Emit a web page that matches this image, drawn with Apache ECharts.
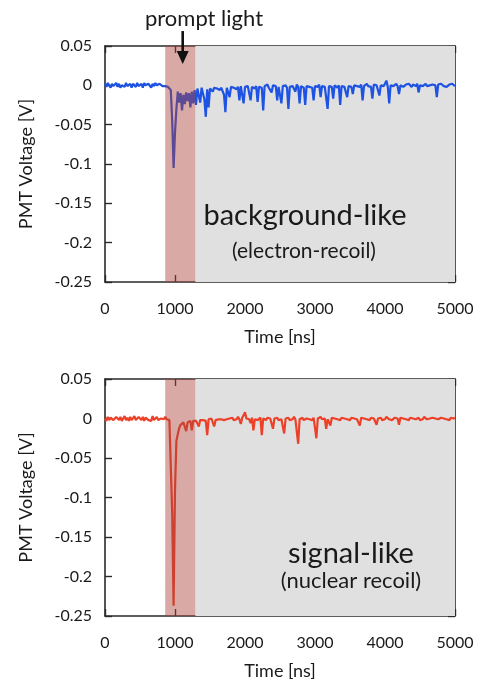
<!DOCTYPE html>
<html>
<head>
<meta charset="utf-8">
<script src="https://cdn.jsdelivr.net/npm/echarts@6/dist/echarts.min.js"></script>
<style>
  html, body { margin: 0; padding: 0; background: #ffffff; }
  #chart { width: 479px; height: 685px; }
</style>
</head>
<body>
<div id="chart"></div>
<script>
// ---- data ----
const sampleStartNs = 0;
const sampleStepNs = 20;

// Top trace: background-like (electron-recoil), PMT voltage in mV, one value every 20 ns
const backgroundMv = [
  2,-2,3,0,-3,2,-1,1,3,-2,
  2,-3,0,2,-2,3,-1,0,2,-3,
  2,0,-2,3,-1,-2,2,-3,3,0,
  -2,2,0,-3,2,-1,3,0,-2,2,
  3,-1,0,-1,1,-2,-3,-6,-45,-105,
  -60,-30,-8,-22,-10,-32,-12,-24,-9,-20,
  -10,-28,-8,-23,-6,-25,-4,-3,-22,-3,
  -5,-18,-40,-5,-28,-4,-2,-8,-3,-1,
  -4,-2,-6,-3,-2,-12,-34,-3,-1,-15,
  -2,0,-3,-1,-5,-2,-19,-1,-3,-23,
  -2,0,-1,-3,-19,-2,0,-4,-1,-21,
  -2,0,-3,-32,-1,-2,1,-3,-1,-9,
  0,-2,-1,-19,-2,0,-23,-1,-2,0,
  -3,-30,-2,0,-1,-3,-8,1,-2,-23,
  -1,0,-3,-25,-1,1,-2,0,-3,-19,
  -1,0,-2,1,-15,-1,0,-2,-4,-30,
  -1,1,-2,-17,0,-1,-3,0,-25,-1,
  1,-2,0,-15,-1,1,-2,-11,0,2,
  -1,0,-2,1,-19,-1,0,2,-1,0,
  -2,-17,1,-1,0,-2,-13,0,1,-1,
  2,6,-2,-23,0,1,-1,0,2,-1,
  -11,0,1,-2,0,1,-1,2,0,-2,
  1,0,-1,2,-9,0,1,-1,0,2,
  -1,1,0,-2,1,-1,0,-15,1,-1,
  2,0,-1,1,-2,0,1,-1,2,0,
  -1
];

// Bottom trace: signal-like (nuclear recoil), PMT voltage in mV, one value every 20 ns
const signalMv = [
  0,-3,2,-2,1,3,-2,-3,2,0,
  -2,2,-3,0,3,-2,1,-3,2,-2,
  0,3,-2,-3,2,0,-2,2,-3,1,
  2,-2,0,-3,3,-2,0,2,-2,-3,
  0,1,-1,2,-1,0,-2,-3,-120,-237,
  -90,-28,-20,-12,-8,-6,-5,-4,-16,-5,
  -4,-3,-15,-3,-2,-3,-2,-10,-2,-1,
  -2,-1,-3,-21,-1,-2,0,-1,-10,-2,
  0,-1,-2,-1,1,-2,0,-1,-3,0,
  -1,1,-2,0,-1,2,-1,-7,1,4,
  8,0,-2,-1,-6,1,-15,-1,0,-2,
  -1,1,-21,0,-1,-2,1,-1,0,-2,
  -13,0,-1,1,-2,0,-1,-2,-19,0,
  -1,1,-2,0,-1,2,-1,0,-32,-1,
  0,1,-2,-1,0,2,-1,0,-2,1,
  -1,-25,0,-1,2,-1,-2,0,-13,-1,
  0,-9,1,-1,0,2,-1,0,-2,1,
  -1,0,2,-1,0,-2,1,-1,0,2,
  -1,0,-9,1,-1,0,2,-1,0,-2,
  1,-1,0,2,-8,0,-1,1,-2,0,
  -1,2,0,-1,1,-2,0,1,-1,0,
  -8,1,-1,0,2,-1,0,-2,1,-1,
  0,2,-1,0,1,-2,0,-1,2,0,
  -1,1,0,-2,1,-1,0,2,-1,0,
  1,-1,0,2,-1,0,-2,1,-1,0,
  1
];

const promptWindowNs = [860, 1290];   // red "prompt light" window
const lateWindowNs = [1290, 5000];    // grey late window

const xTicksNs = [0, 1000, 2000, 3000, 4000, 5000];
const yTicksV = [0.05, 0, -0.05, -0.1, -0.15, -0.2, -0.25];

// ---- build ----
const toPoints = arr => arr.map((mv, i) => [sampleStartNs + i * sampleStepNs, mv / 1000]);

const FONT = 'Lato';
const TXT = '#1a1a1a';
const AXC = '#2a2a2a';

function xAxes(gridIndex) {
  const base = {
    gridIndex, type: 'value',
    min: xTicksNs[0], max: xTicksNs[xTicksNs.length - 1], interval: 1000,
    splitLine: { show: false },
    axisLine: { show: true, onZero: false, lineStyle: { color: AXC, width: 1.6 } },
    axisTick: { show: true, inside: true, length: 7, lineStyle: { color: AXC, width: 1.4 } }
  };
  return [
    Object.assign({}, base, {
      position: 'bottom',
      axisLabel: { show: true, margin: 19, fontFamily: FONT, fontSize: 16, color: TXT,
        showMinLabel: true, showMaxLabel: true, formatter: v => String(v) },
      name: 'Time [ns]', nameLocation: 'middle', nameGap: 46,
      nameTextStyle: { fontFamily: FONT, fontSize: 18, color: TXT }
    }),
    Object.assign({}, base, { position: 'top', axisLabel: { show: false } })
  ];
}
function yAxes(gridIndex) {
  const base = {
    gridIndex, type: 'value',
    min: yTicksV[yTicksV.length - 1], max: yTicksV[0], interval: 0.05,
    splitLine: { show: false },
    axisLine: { show: true, onZero: false, lineStyle: { color: AXC, width: 1.6 } },
    axisTick: { show: true, inside: true, length: 7, lineStyle: { color: AXC, width: 1.4 } }
  };
  return [
    Object.assign({}, base, {
      position: 'left',
      axisLabel: { show: true, margin: 13, fontFamily: FONT, fontSize: 16, color: TXT,
        formatter: v => String(parseFloat(v.toFixed(3))) },
      name: 'PMT Voltage [V]', nameLocation: 'middle', nameGap: 70,
      nameTextStyle: { fontFamily: FONT, fontSize: 18, color: TXT }
    }),
    Object.assign({}, base, { position: 'right', axisLabel: { show: false } })
  ];
}

function traceSeries(name, arr, color, xi, yi) {
  return [
    { // grey late window, below the trace
      type: 'line', xAxisIndex: xi, yAxisIndex: yi, data: [], silent: true, z: 1,
      markArea: { silent: true, z: 1, itemStyle: { color: '#e0e0e0' },
        data: [[{ xAxis: lateWindowNs[0] }, { xAxis: lateWindowNs[1] }]] }
    },
    {
      name, type: 'line', xAxisIndex: xi, yAxisIndex: yi, z: 2,
      data: toPoints(arr), showSymbol: false, sampling: false,
      lineStyle: { color, width: 2.2 }, itemStyle: { color }
    },
    { // red prompt window, semi-transparent above the trace
      type: 'line', xAxisIndex: xi, yAxisIndex: yi, data: [], silent: true, z: 3,
      markArea: { silent: true, z: 3, itemStyle: { color: 'rgba(170,65,55,0.45)' },
        data: [[{ xAxis: promptWindowNs[0] }, { xAxis: promptWindowNs[1] }]] }
    }
  ];
}

function label(id, text, x, y, size) {
  return { id, type: 'text', z: 10, x, y,
    style: { text, font: size + 'px Lato', fill: TXT, align: 'center', verticalAlign: 'middle' } };
}

const chart = echarts.init(document.getElementById('chart'), null, { renderer: 'canvas' });
chart.setOption({
  animation: false,
  backgroundColor: '#ffffff',
  grid: [
    { left: 105, right: 24, top: 46, height: 236 },
    { left: 105, right: 24, top: 379, height: 237 }
  ],
  xAxis: [...xAxes(0), ...xAxes(1)],
  yAxis: [...yAxes(0), ...yAxes(1)],
  series: [
    ...traceSeries('background-like', backgroundMv, '#1d52e2', 0, 0),
    ...traceSeries('signal-like', signalMv, '#ec4128', 2, 2)
  ],
  graphic: [
    label('lblPrompt', 'prompt light', 204, 19, 22),
    label('lblBg', 'background-like', 305, 216, 29),
    label('lblEr', '(electron-recoil)', 304, 251, 21),
    label('lblSig', 'signal-like', 351, 554, 29),
    label('lblNr', '(nuclear recoil)', 351, 581, 22)
  ]
});

// arrow pointing at the prompt light, placed in data coordinates of the top panel
const tail = chart.convertToPixel({ xAxisIndex: 0, yAxisIndex: 0 }, [1110, 0.069]);
const tip = chart.convertToPixel({ xAxisIndex: 0, yAxisIndex: 0 }, [1110, 0.027]);
chart.setOption({
  graphic: [
    { id: 'arrowShaft', type: 'line', z: 11,
      shape: { x1: tail[0], y1: tail[1], x2: tip[0], y2: tip[1] - 10 },
      style: { stroke: '#111', lineWidth: 2.6 } },
    { id: 'arrowHead', type: 'polygon', z: 11,
      shape: { points: [[tip[0] - 6, tip[1] - 13], [tip[0] + 6, tip[1] - 13], [tip[0], tip[1]]] },
      style: { fill: '#111' } }
  ]
});
</script>
</body>
</html>
